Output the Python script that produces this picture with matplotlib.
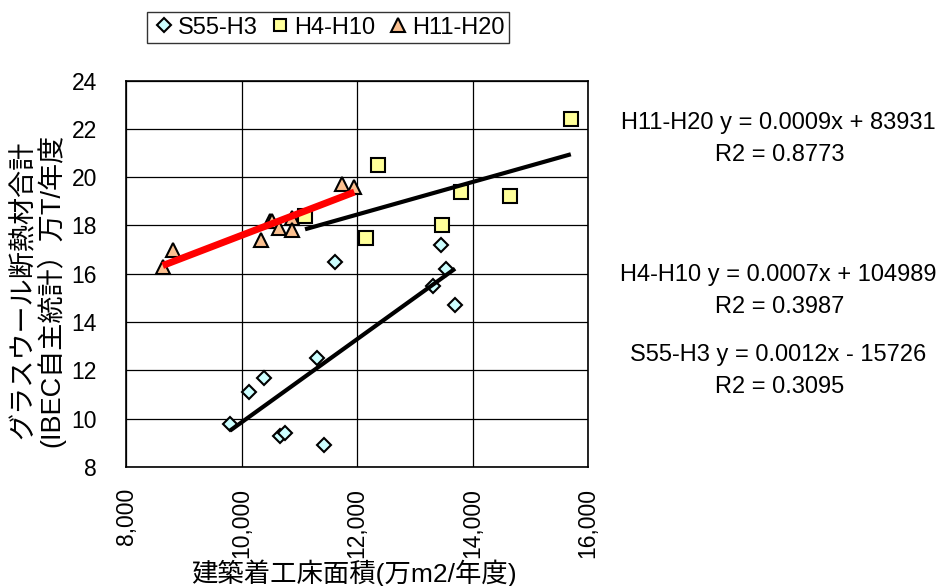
import numpy as np
import matplotlib
matplotlib.use("Agg")
import matplotlib.pyplot as plt
from matplotlib.ticker import FuncFormatter

plt.rcParams['font.family'] = ['Liberation Sans', 'Noto Sans CJK JP']

# 建築着工床面積(万m2/年度) vs グラスウール断熱材合計(万T/年度)
s55_x = [9801, 10136, 10390, 10667, 10754, 11429, 11314, 11620, 13323, 13537, 13451, 13698]
s55_y = [9.8, 11.1, 11.7, 9.3, 9.4, 8.9, 12.5, 16.5, 15.5, 16.2, 17.2, 14.7]

h4_x = [12370, 13802, 14651, 15702, 13478, 12157, 11100]
h4_y = [20.5, 19.4, 19.2, 22.4, 18.0, 17.5, 18.4]

h11_x = [8636, 8820, 10338, 10494, 10529, 10650, 10870, 10870, 11736, 11954]
h11_y = [16.3, 17.0, 17.4, 18.2, 18.2, 17.9, 18.3, 17.8, 19.7, 19.6]

labels = ['S55-H3', 'H4-H10', 'H11-H20']
eq_text = [('H11-H20 y = 0.0009x + 83931', 'R2 = 0.8773'),
           ('H4-H10 y = 0.0007x + 104989', 'R2 = 0.3987'),
           ('S55-H3 y = 0.0012x - 15726', 'R2 = 0.3095')]

fig = plt.figure(figsize=(9.46, 5.86), dpi=100)
ax = fig.add_axes([0.1332, 0.2031, 0.4884, 0.6594])

h1, = ax.plot(s55_x, s55_y, 'D', ms=7.5, mfc='#CCFFFF', mec='black', mew=1.5, ls='none', zorder=3)
h2, = ax.plot(h4_x, h4_y, 's', ms=10, mfc='#FFFF99', mec='black', mew=1.5, ls='none', zorder=3)
h3, = ax.plot(h11_x, h11_y, '^', ms=10.5, mfc='#FBC090', mec='black', mew=1.5, ls='none', zorder=3)


def trend(x, y, color, lw):
    k, b = np.polyfit(x, y, 1)
    xs = np.array([min(x), max(x)])
    ax.plot(xs, k * xs + b, color=color, lw=lw, zorder=5, solid_capstyle='butt')


trend(s55_x, s55_y, 'black', 3)
trend(h4_x, h4_y, 'black', 3)
trend(h11_x, h11_y, '#FF0000', 5)

ax.set_xlim(8000, 16000)
ax.set_ylim(8, 24)
ax.set_xticks(np.arange(8000, 16001, 2000))
ax.set_yticks(np.arange(8, 25, 2))
ax.xaxis.set_major_formatter(FuncFormatter(lambda v, p: f'{v:,.0f}'))
ax.grid(True, color='black', lw=0.9)
ax.set_axisbelow(True)
for s in ax.spines.values():
    s.set_color('black')
    s.set_linewidth(1.2)
ax.tick_params(axis='x', length=0, pad=15, labelsize=16.5, labelrotation=90)
ax.tick_params(axis='y', length=0, pad=21, labelsize=16.5)

# axis titles placed in figure coordinates
fig.text(354 / 946, 1 - 573 / 586, '建築着工床面積(万m2/年度)', fontsize=19,
         ha='center', va='center')
fig.text(38 / 946, 1 - 290 / 586, 'グラスウール断熱材合計\n(IBEC自主統計）万T/年度',
         fontsize=19.5, rotation=90, ha='center', va='center',
         multialignment='center', linespacing=0.95)

leg = fig.legend([h1, h2, h3], labels, loc='upper left',
                 bbox_to_anchor=(147 / 946, 1 - 12 / 586), ncol=3, fontsize=17,
                 frameon=True, fancybox=False, edgecolor='black',
                 handletextpad=0.1, columnspacing=0.45, handlelength=1.0,
                 borderpad=0.2, borderaxespad=0, markerscale=0.9)
leg.get_frame().set_linewidth(1.0)

# trendline equations beside the plot
for (eq, r2), yc in zip(eq_text, [123, 275, 355]):
    fig.text(778 / 946, 1 - yc / 586, eq, ha='center', va='center', fontsize=17)
    fig.text(780 / 946, 1 - (yc + 32) / 586, r2, ha='center', va='center', fontsize=17)

fig.savefig('out.png', dpi=100)
